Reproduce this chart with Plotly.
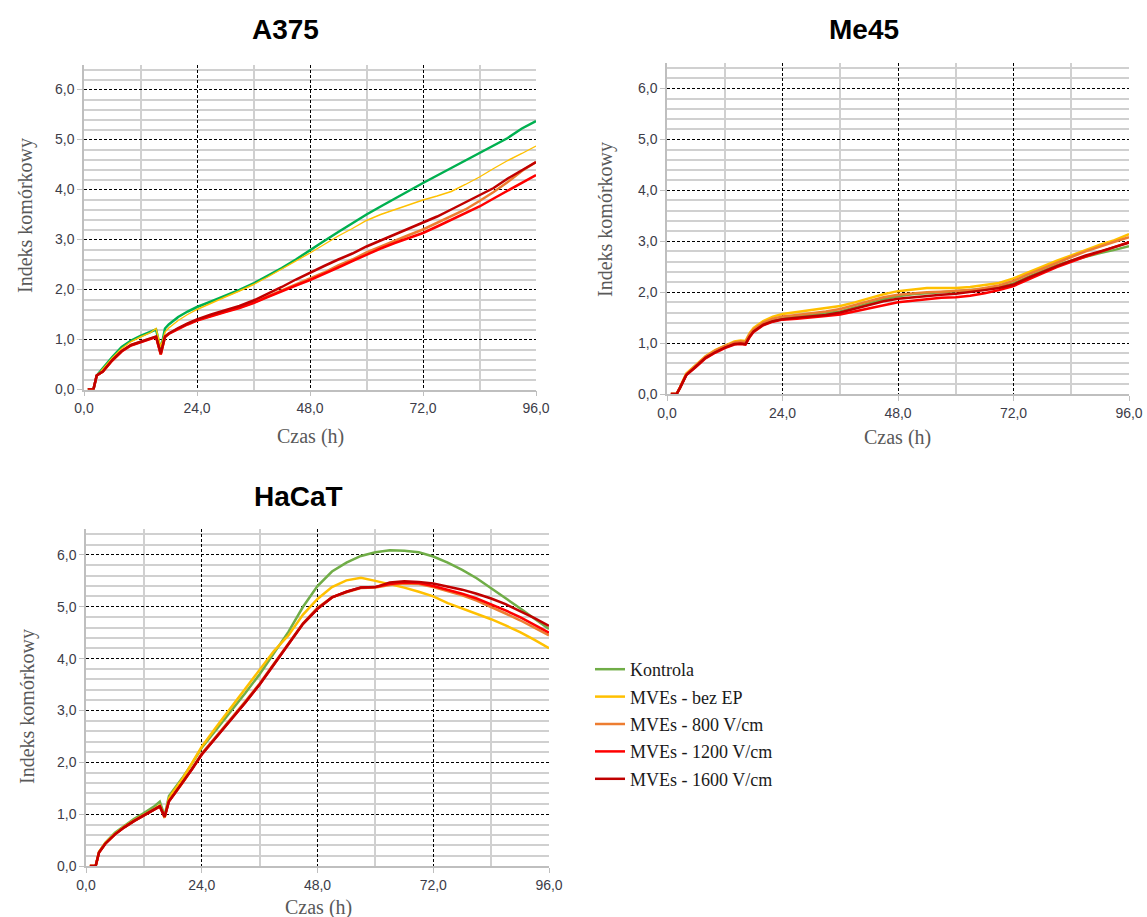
import plotly.graph_objects as go

# ---------------- data ----------------
time_h = [0.8, 2.0, 2.7, 4, 6, 8, 10, 12, 14, 15.3, 16.3, 17.2, 18, 20, 22, 24, 27, 30, 33, 36,
          39, 42, 45, 48, 51, 54, 57, 60, 63, 66, 69, 72, 75, 78, 81, 84, 87, 90, 93, 96]

series_names = ["Kontrola", "MVEs - bez EP", "MVEs - 800 V/cm", "MVEs - 1200 V/cm", "MVEs - 1600 V/cm"]

# A375
a375_kontrola = [0, 0, 0.28, 0.43, 0.65, 0.85, 0.98, 1.07, 1.14, 1.20, 0.80, 1.22, 1.30, 1.45, 1.56, 1.65, 1.76, 1.87, 1.99, 2.12,
                 2.27, 2.43, 2.60, 2.79, 2.97, 3.15, 3.33, 3.50, 3.66, 3.82, 3.98, 4.13, 4.28, 4.43, 4.58, 4.72, 4.87, 5.03, 5.22, 5.37]
a375_bez_ep = [0, 0, 0.27, 0.42, 0.63, 0.82, 0.96, 1.05, 1.13, 1.22, 0.85, 1.15, 1.23, 1.38, 1.50, 1.60, 1.73, 1.85, 1.97, 2.10,
               2.25, 2.41, 2.56, 2.73, 2.90, 3.07, 3.22, 3.38, 3.50, 3.60, 3.70, 3.79, 3.87, 3.96, 4.10, 4.25, 4.42, 4.58, 4.72, 4.87]
a375_800 = [0, 0, 0.28, 0.36, 0.58, 0.77, 0.89, 0.96, 1.02, 1.06, 0.70, 1.05, 1.12, 1.22, 1.31, 1.39, 1.48, 1.56, 1.64, 1.74,
            1.86, 1.98, 2.10, 2.21, 2.34, 2.48, 2.60, 2.74, 2.86, 2.98, 3.09, 3.20, 3.33, 3.46, 3.60, 3.77, 3.95, 4.15, 4.37, 4.55]
a375_1200 = [0, 0, 0.28, 0.36, 0.58, 0.76, 0.88, 0.95, 1.01, 1.05, 0.70, 1.05, 1.11, 1.21, 1.30, 1.38, 1.47, 1.55, 1.63, 1.73,
             1.85, 1.97, 2.08, 2.19, 2.31, 2.44, 2.57, 2.70, 2.82, 2.93, 3.03, 3.13, 3.26, 3.39, 3.52, 3.66, 3.82, 3.98, 4.13, 4.29]
a375_1600 = [0, 0, 0.28, 0.36, 0.59, 0.77, 0.89, 0.96, 1.02, 1.06, 0.72, 1.06, 1.12, 1.23, 1.32, 1.40, 1.50, 1.58, 1.67, 1.78,
             1.91, 2.05, 2.20, 2.34, 2.47, 2.60, 2.72, 2.86, 2.98, 3.10, 3.22, 3.33, 3.46, 3.60, 3.74, 3.88, 4.03, 4.22, 4.38, 4.55]

# Me45
me45_kontrola = [0, 0, 0.12, 0.38, 0.55, 0.72, 0.83, 0.92, 0.99, 1.01, 1.00, 1.15, 1.24, 1.37, 1.44, 1.48, 1.52, 1.55, 1.58, 1.62,
                 1.70, 1.78, 1.86, 1.92, 1.96, 1.98, 2.00, 2.01, 2.03, 2.06, 2.10, 2.17, 2.30, 2.42, 2.53, 2.62, 2.70, 2.77, 2.83, 2.90]
me45_bez_ep = [0, 0, 0.13, 0.40, 0.57, 0.74, 0.86, 0.95, 1.03, 1.05, 1.04, 1.20, 1.30, 1.43, 1.52, 1.57, 1.61, 1.65, 1.69, 1.73,
               1.80, 1.88, 1.96, 2.02, 2.05, 2.08, 2.08, 2.08, 2.10, 2.14, 2.18, 2.27, 2.39, 2.50, 2.62, 2.72, 2.83, 2.93, 3.02, 3.14]
me45_800 = [0, 0, 0.13, 0.39, 0.56, 0.73, 0.85, 0.94, 1.01, 1.03, 1.02, 1.18, 1.27, 1.40, 1.48, 1.52, 1.55, 1.58, 1.62, 1.67,
            1.75, 1.83, 1.90, 1.95, 1.98, 2.00, 2.01, 2.02, 2.04, 2.08, 2.13, 2.22, 2.35, 2.46, 2.58, 2.69, 2.80, 2.90, 2.99, 3.08]
me45_1200 = [0, 0, 0.12, 0.37, 0.53, 0.70, 0.81, 0.90, 0.97, 0.98, 0.97, 1.12, 1.22, 1.35, 1.42, 1.46, 1.48, 1.50, 1.53, 1.56,
             1.62, 1.69, 1.75, 1.80, 1.83, 1.86, 1.89, 1.90, 1.93, 1.98, 2.04, 2.12, 2.25, 2.37, 2.49, 2.60, 2.70, 2.79, 2.88, 2.98]
me45_1600 = [0, 0, 0.12, 0.37, 0.54, 0.71, 0.82, 0.91, 0.98, 0.99, 0.98, 1.13, 1.23, 1.36, 1.43, 1.47, 1.50, 1.52, 1.55, 1.60,
             1.67, 1.75, 1.82, 1.87, 1.90, 1.92, 1.95, 1.97, 2.00, 2.04, 2.08, 2.15, 2.28, 2.40, 2.51, 2.62, 2.72, 2.80, 2.88, 2.97]

# HaCaT
hacat_kontrola = [0, 0, 0.27, 0.45, 0.64, 0.78, 0.91, 1.02, 1.14, 1.24, 0.97, 1.35, 1.45, 1.70, 1.98, 2.28, 2.63, 2.97, 3.33, 3.70,
                  4.10, 4.52, 5.00, 5.40, 5.68, 5.85, 5.98, 6.05, 6.09, 6.08, 6.05, 5.97, 5.85, 5.71, 5.55, 5.36, 5.17, 4.97, 4.77, 4.57]
hacat_bez_ep = [0, 0, 0.27, 0.44, 0.62, 0.76, 0.88, 0.98, 1.09, 1.17, 0.93, 1.30, 1.42, 1.68, 1.98, 2.30, 2.68, 3.05, 3.42, 3.80,
                4.15, 4.45, 4.85, 5.15, 5.38, 5.51, 5.56, 5.50, 5.44, 5.37, 5.29, 5.20, 5.07, 4.97, 4.87, 4.76, 4.64, 4.51, 4.36, 4.20]
hacat_800 = [0, 0, 0.26, 0.43, 0.61, 0.75, 0.87, 0.97, 1.07, 1.15, 0.93, 1.25, 1.35, 1.60, 1.88, 2.17, 2.50, 2.83, 3.17, 3.52,
             3.90, 4.30, 4.68, 4.98, 5.18, 5.28, 5.36, 5.37, 5.42, 5.45, 5.44, 5.38, 5.30, 5.22, 5.12, 5.00, 4.87, 4.74, 4.60, 4.45]
hacat_1200 = [0, 0, 0.26, 0.43, 0.61, 0.75, 0.87, 0.97, 1.07, 1.15, 0.95, 1.25, 1.35, 1.60, 1.87, 2.15, 2.48, 2.81, 3.15, 3.50,
              3.89, 4.29, 4.67, 4.96, 5.18, 5.29, 5.37, 5.38, 5.44, 5.47, 5.46, 5.40, 5.33, 5.25, 5.16, 5.05, 4.93, 4.80, 4.65, 4.50]
hacat_1600 = [0, 0, 0.26, 0.43, 0.61, 0.75, 0.87, 0.97, 1.07, 1.15, 0.95, 1.25, 1.35, 1.60, 1.87, 2.15, 2.48, 2.81, 3.15, 3.50,
              3.89, 4.29, 4.67, 4.96, 5.18, 5.29, 5.37, 5.38, 5.47, 5.49, 5.48, 5.45, 5.39, 5.33, 5.25, 5.16, 5.05, 4.92, 4.78, 4.63]

panel_titles = ["A375", "Me45", "HaCaT"]
x_title = "Czas (h)"
y_title = "Indeks komórkowy"

# ---------------- styling ----------------
colors = ["#70AD47", "#FFC000", "#ED7D31", "#FF0000", "#C00000"]
a375_colors = ["#00B050", "#FFC000", "#ED7D31", "#FF0000", "#C00000"]
a375_widths = [2.5, 1.4, 2.5, 2.5, 2.5]

W, H = 1147, 917

def px_x(p):
    return p / W

def px_y(p):
    return 1 - p / H

panels = [
    dict(data=[a375_kontrola, a375_bez_ep, a375_800, a375_1200, a375_1600], cols=a375_colors, widths=a375_widths,
         xdom=[px_x(84), px_x(536)], ydom=[px_y(389.5), px_y(64.5)], legend=False),
    dict(data=[me45_kontrola, me45_bez_ep, me45_800, me45_1200, me45_1600], cols=colors, widths=[2.5] * 5,
         xdom=[px_x(667), px_x(1129)], ydom=[px_y(394), px_y(63)], legend=False),
    dict(data=[hacat_kontrola, hacat_bez_ep, hacat_800, hacat_1200, hacat_1600], cols=colors, widths=[2.5] * 5,
         xdom=[px_x(86), px_x(549)], ydom=[px_y(866), px_y(529)], legend=True),
]

fig = go.Figure()
layout = dict(
    width=W, height=H, margin=dict(l=0, r=0, t=0, b=0, autoexpand=False),
    paper_bgcolor="white", plot_bgcolor="white",
    separators=", ",
    showlegend=True,
    legend=dict(x=px_x(590), y=px_y(651), xanchor="left", yanchor="top",
                font=dict(family="Liberation Serif", size=18, color="#1a1a1a"),
                tracegroupgap=1, bgcolor="rgba(0,0,0,0)"),
    annotations=[],
)

tick_font = dict(family="Liberation Sans, Arial", size=14, color="#3c3c48")

for i, p in enumerate(panels):
    k = "" if i == 0 else str(i + 1)
    xa, ya = "x" + k, "y" + k
    for j, (name, vals) in enumerate(zip(series_names, p["data"])):
        fig.add_trace(go.Scatter(
            x=time_h, y=vals, mode="lines", name=name,
            line=dict(color=p["cols"][j], width=p["widths"][j]),
            xaxis=xa, yaxis=ya, legendgroup=name,
            showlegend=p["legend"], hoverinfo="skip"))
    layout["xaxis" + k] = dict(
        domain=p["xdom"], anchor=ya, range=[0, 96], dtick=24, tick0=0, tickformat=".1f",
        showgrid=True, gridcolor="#000000", gridwidth=1, griddash="3px,2px",
        minor=dict(dtick=12, showgrid=True, gridcolor="#d0d0d0", gridwidth=1.5, griddash="solid"),
        zeroline=False, showline=True, linecolor="#bfbfbf", linewidth=1.5, automargin=False,
        ticks="outside", ticklen=5, tickcolor="#bfbfbf", tickfont=tick_font, fixedrange=True)
    layout["yaxis" + k] = dict(
        domain=p["ydom"], anchor=xa, range=[0, 6.5], dtick=1, tick0=0, tickformat=".1f",
        showgrid=True, gridcolor="#000000", gridwidth=1, griddash="3px,2px",
        minor=dict(dtick=0.2, showgrid=True, gridcolor="#d0d0d0", gridwidth=1.5, griddash="solid"),
        zeroline=False, showline=True, linecolor="#bfbfbf", linewidth=1.5, automargin=False,
        ticks="outside", ticklen=5, tickcolor="#bfbfbf", tickfont=tick_font, fixedrange=True)

title_pos = [(285, 29), (864, 29), (298, 496)]
xtitle_pos = [(310, 436), (898, 437), (318, 907)]
ytitle_pos = [(26, 216), (605, 220), (27, 707)]
for i in range(3):
    layout["annotations"].append(dict(
        text="<b>%s</b>" % panel_titles[i], x=px_x(title_pos[i][0]), y=px_y(title_pos[i][1]),
        xref="paper", yref="paper", showarrow=False, xanchor="center", yanchor="middle",
        font=dict(family="Liberation Sans, Arial", size=28, color="#000000")))
    layout["annotations"].append(dict(
        text=x_title, x=px_x(xtitle_pos[i][0]), y=px_y(xtitle_pos[i][1]),
        xref="paper", yref="paper", showarrow=False, xanchor="center", yanchor="middle",
        font=dict(family="Liberation Serif", size=20, color="#595959")))
    layout["annotations"].append(dict(
        text=y_title, x=px_x(ytitle_pos[i][0]), y=px_y(ytitle_pos[i][1]),
        xref="paper", yref="paper", showarrow=False, xanchor="center", yanchor="middle",
        textangle=-90, font=dict(family="Liberation Serif", size=20, color="#595959")))

fig.update_layout(**layout)
fig.write_html("out.html")
